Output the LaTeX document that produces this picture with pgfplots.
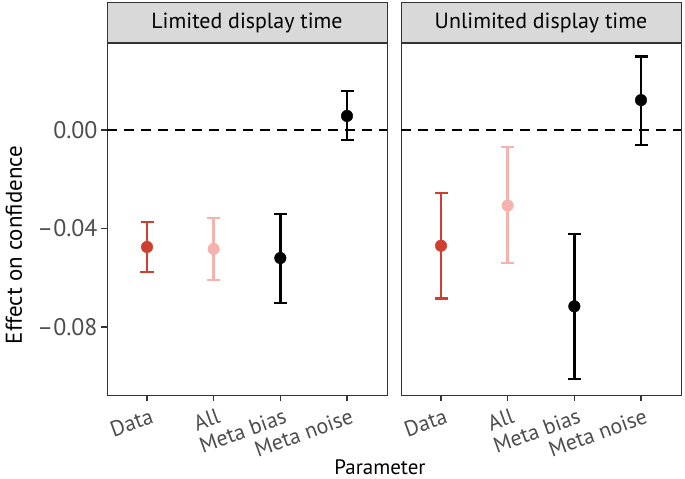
\documentclass[border=0pt]{standalone}
\usepackage{fontspec}
\setmainfont{PT Sans}
\usepackage{pgfplots}
\pgfplotsset{compat=1.18}
\definecolor{datared}{HTML}{D03E30}
\definecolor{allpink}{HTML}{F4B3AD}
\definecolor{stripgray}{HTML}{D9D9D9}
\definecolor{framegray}{HTML}{333333}
\definecolor{tickgray}{HTML}{4D4D4D}
\pgfplotsset{
  panel/.style={
    scale only axis, width=280bp, height=352bp,
    xmin=0.4, xmax=4.6, ymin=-0.1076, ymax=0.0353,
    xtick={1,2,3,4}, xticklabels={Data,All,Meta bias,Meta noise},
    axis line style={framegray, line width=0.9bp},
    tick style={framegray, line width=1.1bp},
    tick align=outside, major tick length=6bp,
    xtick pos=bottom, ytick pos=left,
    x tick label style={rotate=20, anchor=north east, font=\fontsize{22}{25}\selectfont, text=tickgray, inner sep=2bp, yshift=-5bp, xshift=2bp},
    y tick label style={font=\fontsize{24}{28}\selectfont, text=tickgray},
    /pgf/number format/assume math mode=true,
    title style={at={(0.5,1)}, anchor=south, fill=stripgray, draw=framegray, line width=0.9bp,
      minimum width=280bp, minimum height=40bp, inner sep=0pt, font=\fontsize{22}{25}\selectfont},
    every axis title shift=0pt,
  },
  pt/.style={only marks, mark=*, mark size=5.8bp, #1, mark options={fill=#1, draw=#1},
    error bars/.cd, y dir=both, y explicit,
    error bar style={line width=2.4bp, #1},
    error mark options={rotate=90, mark size=6.5bp, line width=2.4bp, #1}},
  zeroline/.style={black, line width=1.7bp, dash pattern=on 10bp off 7bp, forget plot}
}
\begin{document}
\begin{tikzpicture}
\useasboundingbox (0,0) rectangle (685bp,479bp);
\begin{axis}[panel, at={(107bp,84bp)}, anchor=south west,
  ytick={-0.08,-0.04,0}, yticklabels={–0.08,–0.04,0.00},
  title={Limited display time}]
  \addplot[zeroline] coordinates {(0.4,0) (4.6,0)};
  \addplot[pt=datared] coordinates {(1,-0.0475) += (0,0.0101) -= (0,0.0102)};
  \addplot[pt=allpink] coordinates {(2,-0.0483) += (0,0.0126) -= (0,0.0126)};
  \addplot[pt=black] coordinates {(3,-0.0520) += (0,0.0179) -= (0,0.0183)};
  \addplot[pt=black] coordinates {(4,0.0057) += (0,0.0101) -= (0,0.0098)};
\end{axis}
\begin{axis}[panel, at={(401bp,84bp)}, anchor=south west,
  ytick=\empty,
  title={Unlimited display time}]
  \addplot[zeroline] coordinates {(0.4,0) (4.6,0)};
  \addplot[pt=datared] coordinates {(1,-0.0470) += (0,0.0215) -= (0,0.0215)};
  \addplot[pt=allpink] coordinates {(2,-0.0307) += (0,0.0237) -= (0,0.0233)};
  \addplot[pt=black] coordinates {(3,-0.0716) += (0,0.0294) -= (0,0.0296)};
  \addplot[pt=black] coordinates {(4,0.0121) += (0,0.0177) -= (0,0.0182)};
\end{axis}
\node[font=\fontsize{21}{24}\selectfont, anchor=center] at (380bp,12bp) {Parameter};
\node[font=\fontsize{23}{27}\selectfont, rotate=90, anchor=center] at (14bp,234bp) {Effect on confidence};
\end{tikzpicture}
\end{document}
